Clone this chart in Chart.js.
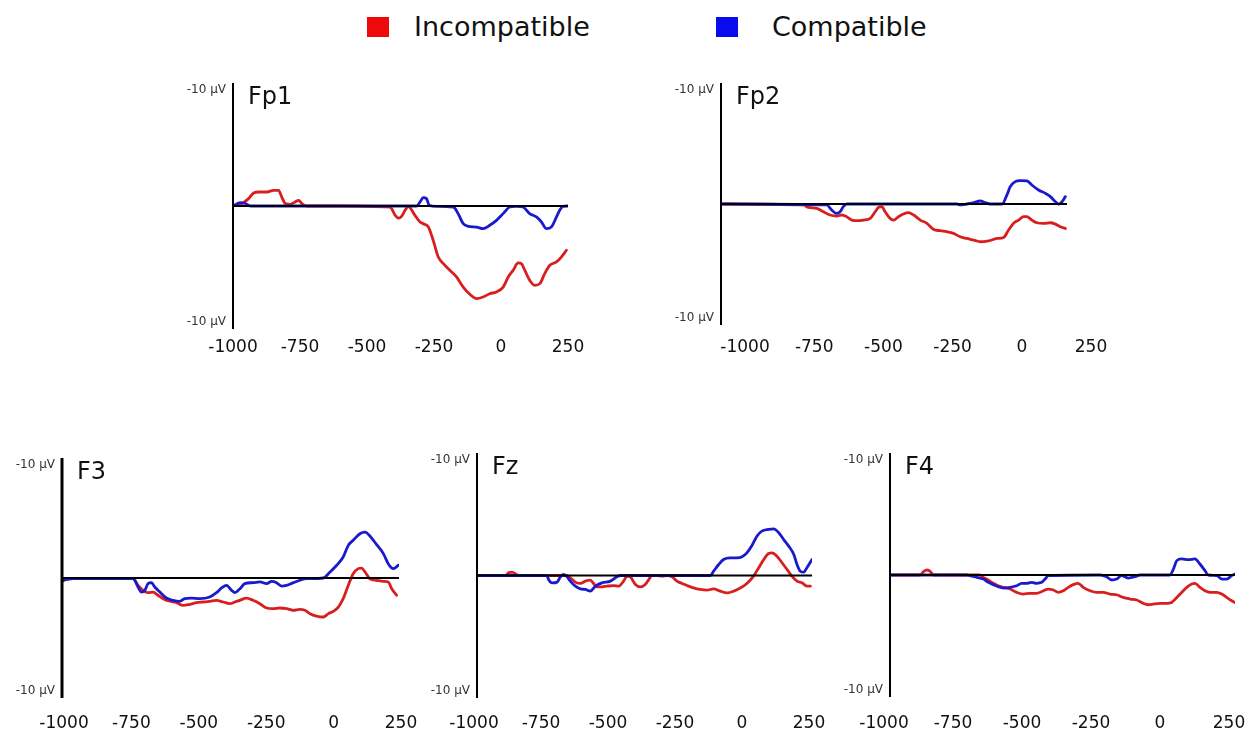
<!DOCTYPE html>
<html>
<head>
<meta charset="utf-8">
<script src="https://cdn.jsdelivr.net/npm/chart.js@4"></script>
<style>
  html, body { margin: 0; padding: 0; background: #fff; }
  #page { position: relative; width: 1246px; height: 734px; overflow: hidden; font-family: "DejaVu Sans", sans-serif; }
  .key { position: absolute; top: 17px; width: 22px; height: 20px; }
  .keyText { position: absolute; top: 13px; font-size: 27px; line-height: 27px; color: #111; white-space: nowrap; }
  canvas { position: absolute; }
</style>
</head>
<body>
<div id="page">
  <div class="key" style="left:367px;background:#ee0a0a"></div>
  <div class="keyText" style="left:414px">Incompatible</div>
  <div class="key" style="left:716px;background:#0a0aee"></div>
  <div class="keyText" style="left:772px">Compatible</div>
</div>

<script>
// x axis labels (ms) and the y range (µV, negative up)
const xTicks = [-1000, -750, -500, -250, 0, 250];
const yRange = [-10, 10];
const seriesNames = ['Incompatible', 'Compatible'];

// Fp1
const fp1IncT = [-1000,-966,-942,-923,-904,-873,-849,-830,-818,-805,-786,-768,-755,-743,-724,-600,-414,-395,-383,-371,-358,-346,-321,-302,-290,-271,-253,-234,-215,-191,-166,-141,-116,-91,-67,-42,-17,8,27,45,64,76,89,107,126,145,163,182,207,225,244];
const fp1IncV = [0,-0.2,-0.6,-1.06,-1.14,-1.14,-1.27,-1.27,-0.73,-0.2,-0.14,-0.33,-0.46,-0.2,0,0,0.08,0.76,0.98,0.84,0.35,0.05,0.76,1.3,1.44,1.71,2.79,4.15,4.69,5.23,5.77,6.59,7.18,7.53,7.4,7.13,6.99,6.59,5.77,5.23,4.63,4.69,5.23,6.04,6.45,6.31,5.5,4.82,4.55,4.15,3.6];
const fp1ComT = [-1000,-973,-954,-935,-400,-315,-302,-290,-278,-268,-240,-178,-160,-141,-122,-91,-67,-42,-17,8,33,58,82,107,132,151,169,188,207,219,231,250];
const fp1ComV = [0,-0.27,-0.2,0,0,0,-0.33,-0.68,-0.6,-0.05,0.03,0.08,0.62,1.44,1.65,1.71,1.84,1.57,1.17,0.62,0.08,0.03,0.08,0.62,0.89,1.3,1.84,1.71,0.89,0.35,0.03,0];

// Fp2
const fp2IncT = [-1000,-702,-684,-654,-630,-606,-582,-564,-546,-527,-509,-485,-461,-443,-431,-419,-407,-389,-377,-359,-341,-323,-304,-280,-256,-232,-208,-184,-160,-136,-112,-87,-63,-33,-3,21,39,57,75,93,105,123,141,166,190,208,226,244];
const fp2IncV = [0,0.08,0.28,0.36,0.64,0.91,0.99,0.91,1.05,1.33,1.38,1.33,1.19,0.64,0.28,0.22,0.64,1.19,1.33,1.05,0.83,0.72,0.91,1.33,1.6,2.1,2.21,2.29,2.43,2.71,2.85,2.98,3.12,3.04,2.85,2.76,2.15,1.6,1.33,1.05,1.05,1.33,1.55,1.6,1.55,1.66,1.88,2.02];
const fp2ComT = [-1000,-618,-600,-584,-570,-558,-546,-148,-136,-112,-87,-63,-45,-27,15,33,45,63,81,105,123,147,172,190,208,220,232,244];
const fp2ComV = [0,0.08,0.5,0.77,0.64,0.22,0,0,0.08,0,-0.11,-0.25,-0.11,0,0,-0.75,-1.44,-1.85,-1.93,-1.91,-1.57,-1.16,-0.88,-0.61,-0.19,0,-0.19,-0.61];

// F3
const f3IncT = [-1000,-985,-960,-736,-718,-699,-681,-662,-644,-625,-600,-575,-551,-526,-501,-476,-452,-427,-402,-377,-359,-340,-316,-291,-266,-241,-217,-192,-167,-142,-118,-99,-80,-56,-31,-12,6,25,43,62,80,99,111,124,142,167,192,210,223,241];
const f3IncV = [0.3,0.1,0.06,0.06,0.61,1.03,1.22,1.17,1.44,1.72,1.94,2.06,2.28,2.19,2.06,2.0,1.94,1.86,2.0,2.14,2.0,1.86,1.67,1.86,2.14,2.5,2.56,2.5,2.56,2.69,2.61,2.69,2.97,3.17,3.25,2.97,2.78,2.42,1.72,0.61,-0.36,-0.78,-0.83,-0.5,0.06,0.19,0.28,0.33,0.89,1.44];
const f3ComT = [-1000,-960,-736,-730,-718,-705,-693,-681,-668,-656,-637,-613,-588,-563,-545,-520,-489,-452,-427,-408,-390,-371,-359,-340,-322,-291,-266,-241,-223,-204,-186,-167,-142,-118,-93,-31,-6,19,43,62,80,105,124,142,167,192,210,229,248];
const f3ComV = [0.19,0.06,0.06,0.19,0.75,1.17,1.03,0.47,0.39,0.75,1.17,1.67,1.86,1.94,1.72,1.67,1.72,1.58,1.22,0.83,0.61,1.03,1.22,0.89,0.47,0.39,0.33,0.47,0.28,0.39,0.67,0.61,0.39,0.19,0.06,0,-0.5,-1.06,-1.75,-2.72,-3.14,-3.69,-3.83,-3.5,-2.78,-2.03,-1.19,-0.78,-1.06];

// Fz
const fzIncT = [-1000,-894,-882,-869,-853,-838,-664,-652,-633,-614,-596,-577,-565,-552,-534,-515,-490,-471,-453,-440,-428,-409,-391,-372,-359,-347,-328,-310,-291,-272,-254,-235,-216,-192,-167,-142,-117,-92,-67,-42,-17,7,32,51,70,88,101,119,138,157,175,194,213,231,244];
const fzIncV = [0,0,-0.22,-0.27,-0.08,0,0,0.19,0.54,0.65,0.46,0.38,0.65,0.93,0.93,0.87,0.82,0.87,0.46,0.05,0.11,0.74,0.93,0.74,0.33,0,0,0.05,0,0.11,0.46,0.65,0.82,1.01,1.14,1.2,1.09,1.28,1.42,1.28,1.01,0.65,0.05,-0.63,-1.31,-1.8,-1.85,-1.58,-1.04,-0.49,0.05,0.46,0.6,0.87,0.87];
const fzComT = [-1000,-739,-733,-720,-701,-689,-677,-664,-652,-633,-614,-596,-577,-558,-534,-502,-478,-465,-129,-117,-98,-80,-55,-30,-11,7,26,45,63,88,107,126,144,163,182,194,206,219,231,250];
const fzComV = [0,0,0.33,0.6,0.54,0.11,-0.08,0.11,0.46,0.87,1.09,1.14,1.28,0.87,0.6,0.46,0.11,0,0,-0.35,-0.9,-1.31,-1.44,-1.44,-1.53,-1.85,-2.45,-3.22,-3.62,-3.76,-3.81,-3.49,-2.94,-2.4,-1.72,-0.9,-0.35,-0.27,-0.63,-1.31];

// F4
const f4IncT = [-1000,-891,-879,-865,-853,-843,-674,-662,-644,-626,-608,-589,-565,-541,-517,-493,-469,-444,-426,-408,-390,-372,-354,-336,-318,-300,-275,-251,-227,-203,-179,-155,-130,-106,-82,-64,-46,-22,2,20,39,57,75,93,105,123,141,159,184,202,220,238,250];
const f4IncV = [0,0,-0.27,-0.41,-0.27,0,0,0.19,0.41,0.68,0.88,1.01,1.15,1.42,1.56,1.51,1.51,1.29,1.15,1.23,1.42,1.29,1.01,0.79,0.68,1.01,1.29,1.42,1.42,1.56,1.62,1.84,1.97,2.05,2.33,2.44,2.38,2.33,2.33,2.25,1.84,1.42,1.01,0.74,0.68,1.01,1.29,1.42,1.42,1.56,1.84,2.11,2.25];
const f4ComT = [-1000,-722,-710,-686,-662,-644,-626,-608,-589,-565,-541,-523,-505,-487,-469,-450,-438,-426,-239,-215,-197,-179,-161,-137,-112,-94,14,27,39,57,81,105,123,141,153,184,202,220,238,250];
const f4ComV = [0,0,0.05,0.19,0.33,0.6,0.79,0.96,1.07,1.01,0.88,0.68,0.68,0.6,0.68,0.6,0.33,0.05,0,0.14,0.41,0.33,0.05,0.25,0.14,0,0,-0.49,-1.18,-1.32,-1.26,-1.32,-0.9,-0.36,0,0.05,0.33,0.33,0.05,-0.08];

// where each panel sits on the page (axis x, top, right end, bottom)
const panels = [
  { name: 'Fp1', axisX: 233, top: 83,  right: 568,  bottom: 329, labelOffset: 0,  tickPad: 8,  axisW: 2, inc: [fp1IncT, fp1IncV], com: [fp1ComT, fp1ComV] },
  { name: 'Fp2', axisX: 721, top: 83,  right: 1067, bottom: 325, labelOffset: 24, tickPad: 12, axisW: 2, inc: [fp2IncT, fp2IncV], com: [fp2ComT, fp2ComV] },
  { name: 'F3',  axisX: 62,  top: 458, right: 399,  bottom: 698, labelOffset: 2,  tickPad: 15, axisW: 3, inc: [f3IncT, f3IncV],   com: [f3ComT, f3ComV] },
  { name: 'Fz',  axisX: 477, top: 453, right: 812,  bottom: 698, labelOffset: -3, tickPad: 15, axisW: 2, inc: [fzIncT, fzIncV],   com: [fzComT, fzComV] },
  { name: 'F4',  axisX: 890, top: 453, right: 1235, bottom: 697, labelOffset: -6, tickPad: 16, axisW: 2, inc: [f4IncT, f4IncV],   com: [f4ComT, f4ComV] }
];

const PAD_L = 60, PAD_R = 45, PAD_T = 6, X_AXIS_H = 40;
const FONT = '"DejaVu Sans", sans-serif';

// axis line, zero line, µV marks and electrode name
const eegFrame = {
  id: 'eegFrame',
  afterDatasetsDraw(chart, args, opts) {
    const { ctx, chartArea: a, scales: { x, y } } = chart;
    const x0 = x.getPixelForValue(xTicks[0]);
    const y0 = y.getPixelForValue(0);
    ctx.save();
    ctx.strokeStyle = '#000';
    ctx.lineWidth = 2;
    ctx.beginPath(); ctx.moveTo(x0, y0); ctx.lineTo(a.right, y0); ctx.stroke();
    ctx.lineWidth = opts.axisW;
    ctx.beginPath(); ctx.moveTo(x0, a.top); ctx.lineTo(x0, a.bottom); ctx.stroke();

    ctx.fillStyle = '#333';
    ctx.font = '12px ' + FONT;
    ctx.textAlign = 'right';
    ctx.textBaseline = 'middle';
    ctx.fillText('-10 µV', x0 - 7, a.top + 7);
    ctx.fillText('-10 µV', x0 - 7, a.bottom - 7);

    ctx.fillStyle = '#111';
    ctx.font = '24px ' + FONT;
    ctx.textAlign = 'left';
    ctx.textBaseline = 'alphabetic';
    ctx.fillText(opts.title, x0 + 15, a.top + 21);
    ctx.restore();
  }
};

function toPoints(t, v) {
  return t.map((ms, i) => ({ x: ms, y: v[i] }));
}

const page = document.getElementById('page');

panels.forEach(p => {
  const canvas = document.createElement('canvas');
  canvas.width = (p.right - p.axisX) + PAD_L + PAD_R;
  canvas.height = (p.bottom - p.top) + PAD_T + X_AXIS_H;
  canvas.style.left = (p.axisX - PAD_L) + 'px';
  canvas.style.top = (p.top - PAD_T) + 'px';
  page.appendChild(canvas);

  new Chart(canvas.getContext('2d'), {
    type: 'line',
    data: {
      datasets: [
        {
          label: seriesNames[0],
          data: toPoints(p.inc[0], p.inc[1]),
          borderColor: '#d81e1e',
          borderWidth: 2.8,
          order: 2
        },
        {
          label: seriesNames[1],
          data: toPoints(p.com[0], p.com[1]),
          borderColor: '#1a1acc',
          borderWidth: 2.8,
          order: 1
        }
      ]
    },
    options: {
      responsive: false,
      animation: false,
      events: [],
      layout: { padding: { left: PAD_L, right: PAD_R, top: PAD_T, bottom: 0 } },
      elements: {
        point: { radius: 0 },
        line: { cubicInterpolationMode: 'monotone', borderCapStyle: 'round', borderJoinStyle: 'round' }
      },
      scales: {
        x: {
          type: 'linear',
          min: xTicks[0],
          max: xTicks[xTicks.length - 1],
          afterFit(scale) { scale.height = X_AXIS_H; },
          afterBuildTicks(scale) { scale.ticks = xTicks.map(v => ({ value: v })); },
          grid: { display: false, drawTicks: false },
          border: { display: false },
          ticks: {
            autoSkip: false,
            maxRotation: 0,
            padding: p.tickPad,
            labelOffset: p.labelOffset,
            color: '#111',
            font: { family: FONT, size: 17 },
            callback: v => String(v)
          }
        },
        y: { display: false, min: yRange[0], max: yRange[1], reverse: true }
      },
      plugins: {
        legend: { display: false },
        tooltip: { enabled: false },
        eegFrame: { title: p.name, axisW: p.axisW }
      }
    },
    plugins: [eegFrame]
  });
});
</script>
</body>
</html>
